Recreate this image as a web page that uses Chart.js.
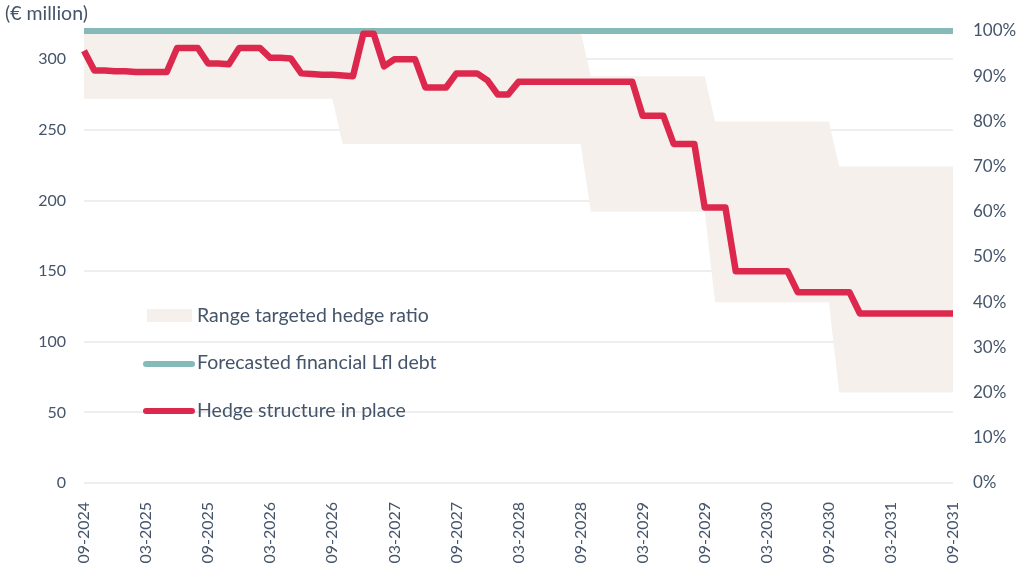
<!DOCTYPE html>
<html>
<head>
<meta charset="utf-8">
<script src="https://cdn.jsdelivr.net/npm/chart.js@4/dist/chart.umd.min.js"></script>
<style>
  html, body { margin: 0; padding: 0; background: #fff; }
  #wrap { width: 1020px; height: 563px; }
</style>
</head>
<body>
<div id="wrap"><canvas id="hedgeChart" width="1020" height="563"></canvas></div>
<script>
// monthly points, 09-2024 .. 09-2031
var months = [
  '09-2024','10-2024','11-2024','12-2024','01-2025','02-2025','03-2025','04-2025','05-2025','06-2025','07-2025','08-2025',
  '09-2025','10-2025','11-2025','12-2025','01-2026','02-2026','03-2026','04-2026','05-2026','06-2026','07-2026','08-2026',
  '09-2026','10-2026','11-2026','12-2026','01-2027','02-2027','03-2027','04-2027','05-2027','06-2027','07-2027','08-2027',
  '09-2027','10-2027','11-2027','12-2027','01-2028','02-2028','03-2028','04-2028','05-2028','06-2028','07-2028','08-2028',
  '09-2028','10-2028','11-2028','12-2028','01-2029','02-2029','03-2029','04-2029','05-2029','06-2029','07-2029','08-2029',
  '09-2029','10-2029','11-2029','12-2029','01-2030','02-2030','03-2030','04-2030','05-2030','06-2030','07-2030','08-2030',
  '09-2030','10-2030','11-2030','12-2030','01-2031','02-2031','03-2031','04-2031','05-2031','06-2031','07-2031','08-2031',
  '09-2031'
];
var xTickLabels = ['09-2024','03-2025','09-2025','03-2026','09-2026','03-2027','09-2027','03-2028',
  '09-2028','03-2029','09-2029','03-2030','09-2030','03-2031','09-2031'];

// € million
var hedgeInPlace = [
  306, 292, 292, 291.5, 291.5, 291, 291, 291, 291, 308, 308, 308,
  297, 297, 296.5, 308, 308, 308, 301, 301, 300.5, 290, 289.5, 289,
  289, 288.5, 288, 318, 318, 295, 300, 300, 300, 280, 280, 280,
  290, 290, 290, 285, 275, 275, 284, 284, 284, 284, 284, 284,
  284, 284, 284, 284, 284, 284, 260, 260, 260, 240, 240, 240,
  195, 195, 195, 150, 150, 150, 150, 150, 150, 135, 135, 135,
  135, 135, 135, 120, 120, 120, 120, 120, 120, 120, 120, 120,
  120
];
var forecastDebt = [
  320, 320, 320, 320, 320, 320, 320, 320, 320, 320, 320, 320,
  320, 320, 320, 320, 320, 320, 320, 320, 320, 320, 320, 320,
  320, 320, 320, 320, 320, 320, 320, 320, 320, 320, 320, 320,
  320, 320, 320, 320, 320, 320, 320, 320, 320, 320, 320, 320,
  320, 320, 320, 320, 320, 320, 320, 320, 320, 320, 320, 320,
  320, 320, 320, 320, 320, 320, 320, 320, 320, 320, 320, 320,
  320, 320, 320, 320, 320, 320, 320, 320, 320, 320, 320, 320,
  320
];
// targeted hedge ratio range, %
var rangeHigh = [
  100, 100, 100, 100, 100, 100, 100, 100, 100, 100, 100, 100,
  100, 100, 100, 100, 100, 100, 100, 100, 100, 100, 100, 100,
  100, 100, 100, 100, 100, 100, 100, 100, 100, 100, 100, 100,
  100, 100, 100, 100, 100, 100, 100, 100, 100, 100, 100, 100,
  100, 90, 90, 90, 90, 90, 90, 90, 90, 90, 90, 90,
  90, 80, 80, 80, 80, 80, 80, 80, 80, 80, 80, 80,
  80, 70, 70, 70, 70, 70, 70, 70, 70, 70, 70, 70,
  70
];
var rangeLow = [
  85, 85, 85, 85, 85, 85, 85, 85, 85, 85, 85, 85,
  85, 85, 85, 85, 85, 85, 85, 85, 85, 85, 85, 85,
  85, 75, 75, 75, 75, 75, 75, 75, 75, 75, 75, 75,
  75, 75, 75, 75, 75, 75, 75, 75, 75, 75, 75, 75,
  75, 60, 60, 60, 60, 60, 60, 60, 60, 60, 60, 60,
  60, 40, 40, 40, 40, 40, 40, 40, 40, 40, 40, 40,
  40, 20, 20, 20, 20, 20, 20, 20, 20, 20, 20, 20,
  20
];

var seriesNames = ['Range targeted hedge ratio', 'Forecasted financial Lfl debt', 'Hedge structure in place'];

var textCol = '#44546a';
var bandCol = '#f5f0ec';
var tealCol = '#86bab9';
var redCol = '#dd284d';
var fontFam = 'Lato, "Open Sans", sans-serif';

// legend sits inside the plot, drawn by hand
var legendInside = {
  id: 'legendInside',
  afterDraw: function(chart) {
    var ctx = chart.ctx;
    ctx.save();
    ctx.font = '19.5px ' + fontFam;
    ctx.textBaseline = 'middle';

    ctx.fillStyle = bandCol;
    ctx.fillRect(147, 309, 45, 13);
    ctx.fillStyle = textCol;
    ctx.fillText(seriesNames[0], 197, 316);

    ctx.lineCap = 'round';
    ctx.lineWidth = 6;
    ctx.strokeStyle = tealCol;
    ctx.beginPath(); ctx.moveTo(146, 364); ctx.lineTo(192, 364); ctx.stroke();
    ctx.fillText(seriesNames[1], 197, 363);

    ctx.strokeStyle = redCol;
    ctx.beginPath(); ctx.moveTo(146, 411); ctx.lineTo(192, 411); ctx.stroke();
    ctx.fillText(seriesNames[2], 197, 411);

    // unit label top left
    ctx.textBaseline = 'alphabetic';
    ctx.fillText('(€ million)', 5, 20);
    ctx.restore();
  }
};

var ctx = document.getElementById('hedgeChart').getContext('2d');
var hedgeChart = new Chart(ctx, {
  type: 'line',
  data: {
    labels: months,
    datasets: [
      { label: 'low', data: rangeLow, yAxisID: 'y1', borderWidth: 0, pointRadius: 0, fill: false, order: 4 },
      { label: seriesNames[0], data: rangeHigh, yAxisID: 'y1', borderWidth: 0, pointRadius: 0,
        fill: '-1', backgroundColor: bandCol, order: 3 },
      { label: seriesNames[1], data: forecastDebt, yAxisID: 'y', borderColor: tealCol, borderWidth: 6,
        pointRadius: 0, fill: false, order: 2, clip: false },
      { label: seriesNames[2], data: hedgeInPlace, yAxisID: 'y', borderColor: redCol, borderWidth: 6.5,
        pointRadius: 0, fill: false, order: 1, clip: false, borderJoinStyle: 'round' }
    ]
  },
  options: {
    responsive: false,
    animation: false,
    layout: { padding: { top: 31, bottom: 0, left: 0, right: 0 } },
    plugins: {
      legend: { display: false },
      tooltip: { enabled: false }
    },
    scales: {
      x: {
        offset: false,
        grid: { display: false },
        border: { display: false },
        ticks: {
          autoSkip: false, maxRotation: 90, minRotation: 90, padding: 11,
          color: textCol, font: { family: fontFam, size: 16 },
          callback: function(v, i) { return xTickLabels.indexOf(months[i]) >= 0 ? months[i] : ''; }
        },
        afterFit: function(s) { s.height = 80; }
      },
      y: {
        position: 'left', min: 0, max: 320,
        grid: { color: '#eeeeee', lineWidth: 2, drawTicks: false },
        border: { display: false },
        ticks: { stepSize: 50, includeBounds: false, padding: 18, color: textCol, font: { family: fontFam, size: 16 } },
        afterFit: function(s) { s.width = 84; }
      },
      y1: {
        position: 'right', min: 0, max: 100,
        grid: { display: false, drawTicks: false },
        border: { display: false },
        ticks: { stepSize: 10, padding: 20, color: textCol, font: { family: fontFam, size: 17 },
          callback: function(v) { return v + '%'; } },
        afterFit: function(s) { s.width = 67; }
      }
    }
  },
  plugins: [legendInside]
});
</script>
</body>
</html>
